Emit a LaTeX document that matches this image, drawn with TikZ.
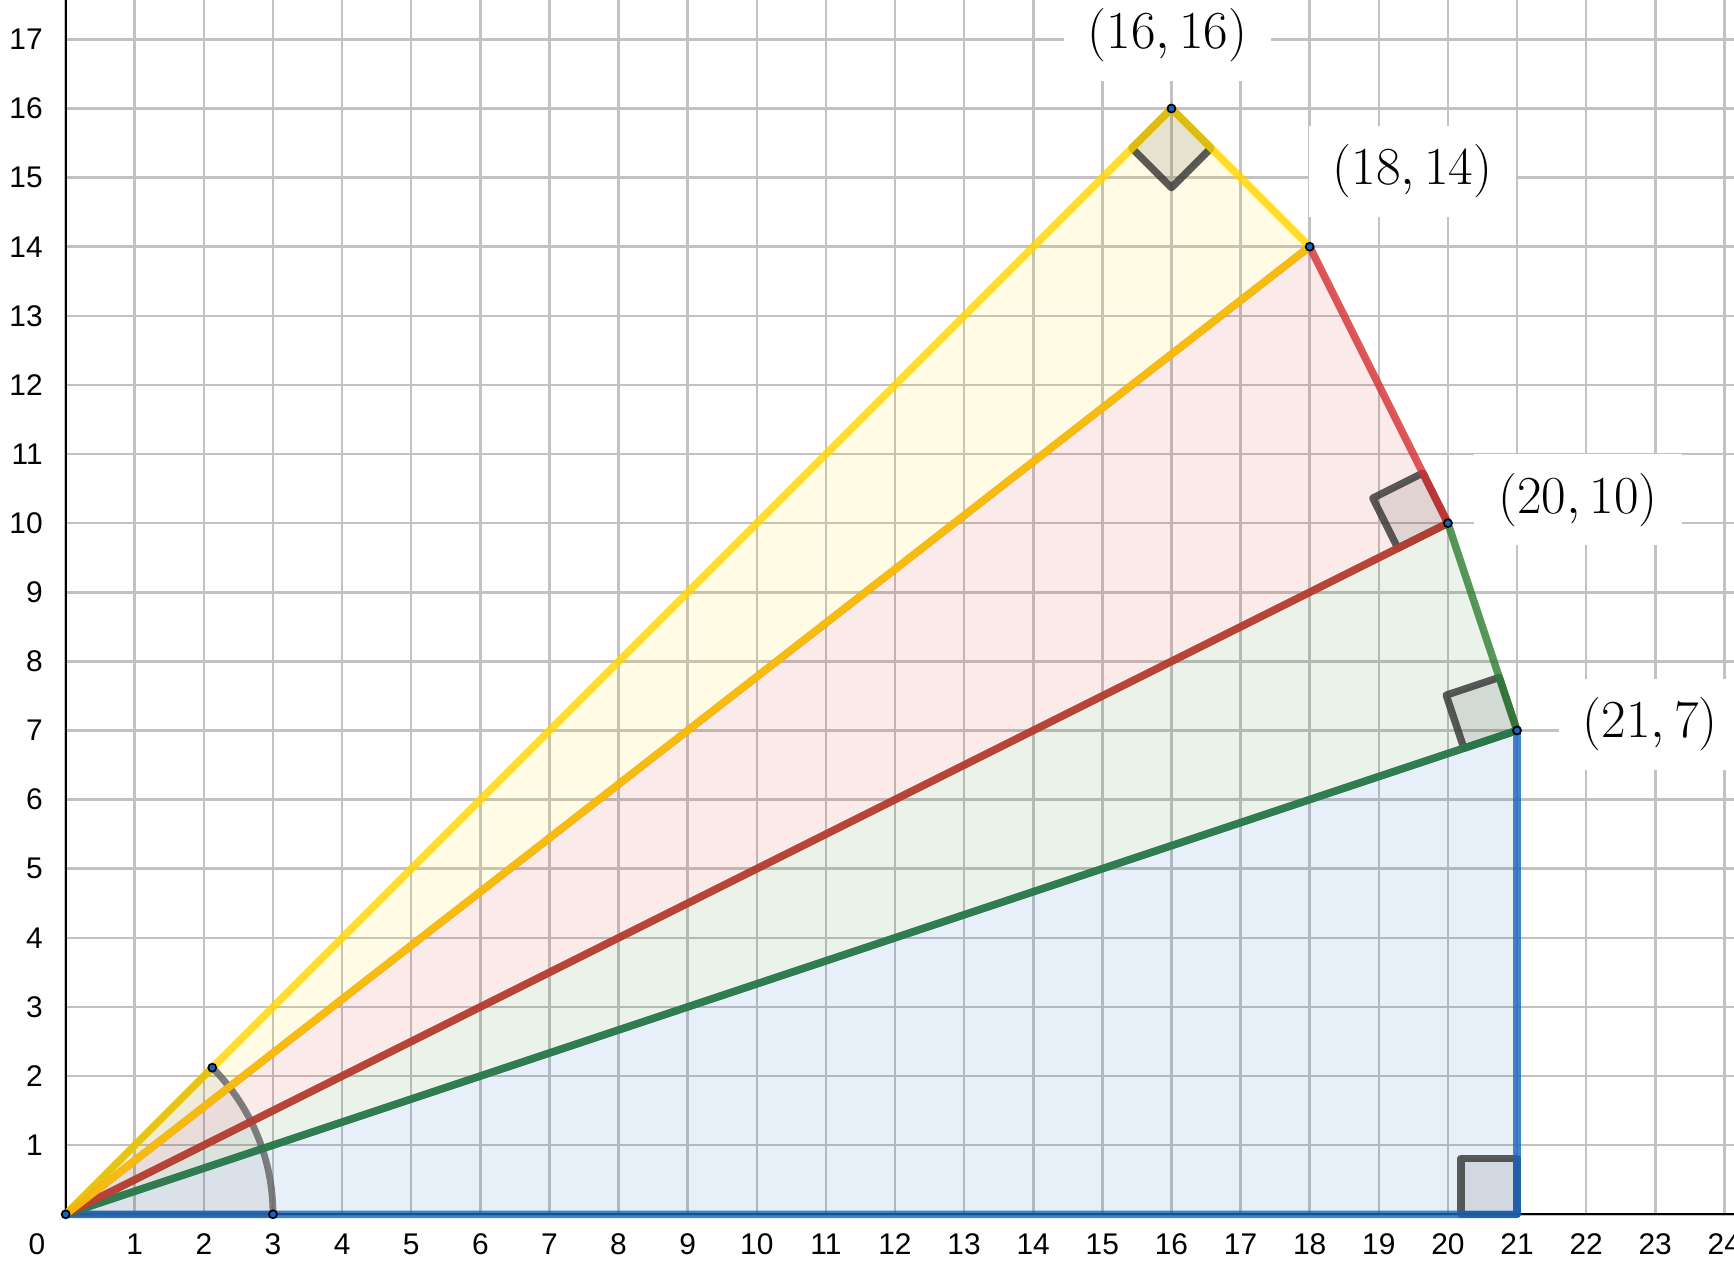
\RequirePackage{fix-cm}
\documentclass[tikz,border=0pt]{standalone}
\usepackage{fontspec}
\newfontfamily\tickfont{Liberation Sans}
\usetikzlibrary{calc}
\definecolor{ggblue}{HTML}{1565C0}
\definecolor{gggreen}{HTML}{2E7D32}
\definecolor{ggred}{HTML}{D32F2F}
\definecolor{ggyellow}{HTML}{FFD600}
\definecolor{gggrid}{HTML}{C2C2C2}
\definecolor{ggmark}{HTML}{333333}
\definecolor{ggarc}{HTML}{616161}
\newcommand{\rightanglemark}[3]{%
  \coordinate (ra1) at ($(#1)!0.81cm!(#2)$);
  \coordinate (ra2) at ($(#1)!0.81cm!(#3)$);
  \coordinate (ra3) at ($(ra1)+(ra2)-(#1)$);
  \draw[rmark] (#1) -- (ra1) -- (ra3) -- (ra2) -- cycle;
}
\begin{document}
\begin{tikzpicture}[
  gridline/.style={draw=gggrid, line width=1.05pt},
  axisline/.style={draw=black, line width=0.95pt},
  trifill/.style={fill opacity=0.1},
  edge/.style={line width=3.1pt, draw opacity=0.8, line join=round, line cap=round},
  rmark/.style={draw=ggmark, fill=ggmark, fill opacity=0.12, draw opacity=0.8, line width=3pt, line join=round},
  sectorstyle/.style={draw=ggarc, fill=ggarc, fill opacity=0.1, draw opacity=0.8, line width=2.8pt, line join=round},
  ptdot/.style={circle, draw=black, fill=ggblue, line width=0.7pt, inner sep=0pt, minimum size=3.3pt},
  ticklab/.style={font=\tickfont\fontsize{12.3}{14}\selectfont, inner sep=0pt},
  coordlab/.style={fill=white, inner xsep=9.9pt, inner ysep=7.7pt, font=\fontsize{22}{26}\selectfont}
]
\useasboundingbox (-0.95,-0.69) rectangle (24.14,17.57);

% grid
\draw[gridline] (0,0) grid (24.14,17.57);
% axes
\coordinate (xend) at (24.14,0);
\coordinate (yend) at (0,17.57);
\coordinate (O) at (0,0);
\draw[axisline] (O) -- (xend);
\draw[axisline] (O) -- (yend);

% tick labels
\node[ticklab] (x0) at (-0.415,-0.43) {0};
\foreach \i in {1,...,24} {
  \node[ticklab] (xl\i) at (\i,-0.43) {\i};
}
\foreach \i in {1,...,17} {
  \node[ticklab, anchor=east] (yl\i) at (-0.325,\i) {\i};
}

% vertices
\coordinate (A) at (21,0);
\coordinate (B) at (21,7);
\coordinate (C) at (20,10);
\coordinate (D) at (18,14);
\coordinate (E) at (16,16);
\coordinate (S) at (3,0);
\coordinate (F) at (45:3);

% fills
\fill[ggblue, trifill] (O) -- (A) -- (B) -- cycle;
\fill[gggreen, trifill] (O) -- (B) -- (C) -- cycle;
\fill[ggred, trifill] (O) -- (C) -- (D) -- cycle;
\fill[ggyellow, trifill] (O) -- (D) -- (E) -- cycle;

% angle marks
\draw[sectorstyle] (O) -- (S) arc[start angle=0, end angle=45, radius=3] -- cycle;
\rightanglemark{A}{O}{B}
\rightanglemark{B}{O}{C}
\rightanglemark{C}{O}{D}
\rightanglemark{E}{O}{D}

% edges
\draw[edge, ggblue] (O) -- (A) -- (B) -- cycle;
\draw[edge, gggreen] (O) -- (B) -- (C) -- cycle;
\draw[edge, ggred] (O) -- (C) -- (D) -- cycle;
\draw[edge, ggyellow] (O) -- (D) -- (E) -- cycle;

% points
\node[ptdot] (pO) at (O) {};
\node[ptdot] (pS) at (S) {};
\node[ptdot] (pF) at (F) {};
\node[ptdot] (pB) at (B) {};
\node[ptdot] (pC) at (C) {};
\node[ptdot] (pD) at (D) {};
\node[ptdot] (pE) at (E) {};

% coordinate labels
\node[coordlab] (lE) at (15.945,17.06) {$(16,16)$};
\node[coordlab] (lD) at (19.49,15.09) {$(18,14)$};
\node[coordlab] (lC) at (21.88,10.34) {$(20,10)$};
\node[coordlab] (lB) at (22.93,7.09) {$(21,7)$};
\end{tikzpicture}
\end{document}
